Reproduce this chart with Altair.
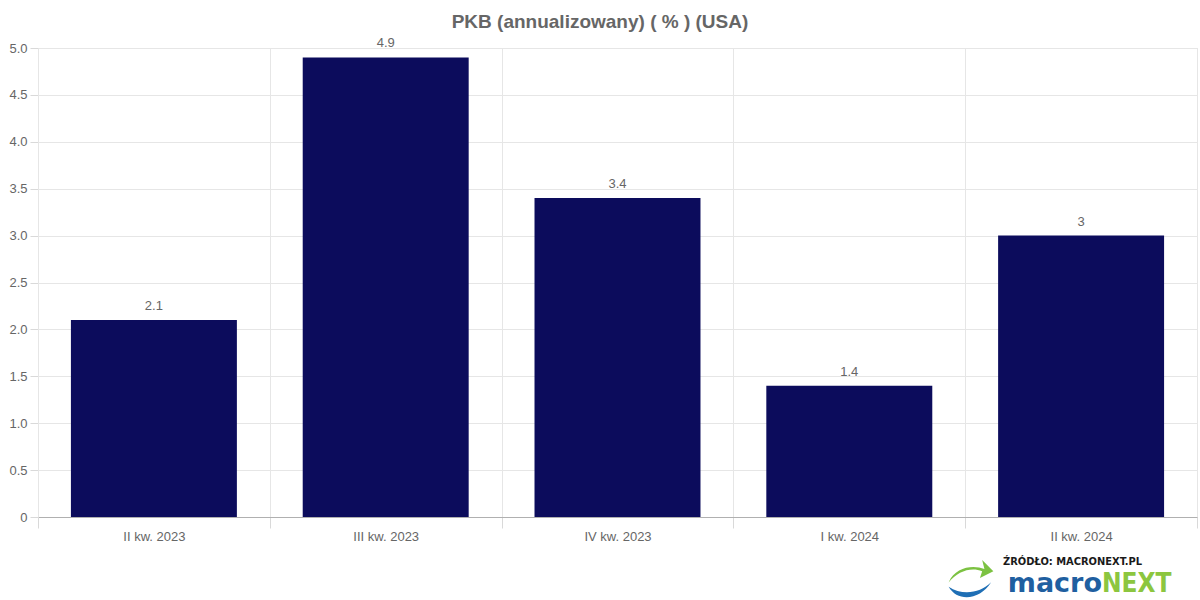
import altair as alt
import pandas as pd

categories = ["II kw. 2023", "III kw. 2023", "IV kw. 2023", "I kw. 2024", "II kw. 2024"]
values = [2.1, 4.9, 3.4, 1.4, 3]

df = pd.DataFrame({"kw": categories, "v": values})

W, H = 1159, 469
GRID = "#e6e6e6"
TXT = "#666666"

x = alt.X("kw:N", sort=categories, title=None,
          scale=alt.Scale(paddingInner=0, paddingOuter=0),
          axis=alt.Axis(tickBand="extent", labelAngle=0, labelColor=TXT, labelFontSize=13,
                        labelFont="Liberation Sans", tickSize=11, tickColor="#d9d9d9",
                        gridColor=GRID, grid=True, domainColor="#b0b0b0", labelPadding=2))
y = alt.Y("v:Q", title=None,
          scale=alt.Scale(domain=[0, 5], nice=False),
          axis=alt.Axis(values=[0, 0.5, 1, 1.5, 2, 2.5, 3, 3.5, 4, 4.5, 5],
                        labelExpr="datum.value == 0 ? '0' : format(datum.value, '.1f')",
                        labelColor=TXT, labelFontSize=13, labelFont="Liberation Sans",
                        tickSize=8, tickColor="#d9d9d9", gridColor=GRID,
                        domainColor=GRID, labelPadding=3))

base = alt.Chart(df).encode(x=x, y=y)
bars = base.mark_bar(color="#0c0c5c", width=alt.RelativeBandSize(0.716))
labels = base.mark_text(dy=-10, baseline="alphabetic", color=TXT, fontSize=13,
                        font="Liberation Sans").encode(text="v:Q")

title_txt = ["PKB (annualizowany) ( % ) (USA)"]
tdf = pd.DataFrame({"t": title_txt})
title = alt.Chart(tdf).mark_text(fontSize=19, fontWeight="bold", color=TXT,
                                 font="Liberation Sans", baseline="middle").encode(
    x=alt.value(600 - 38), y=alt.value(22 - 48), text="t:N")

src_txt = ["ŹRÓDŁO: MACRONEXT.PL"]
src = alt.Chart(pd.DataFrame({"t": src_txt})).mark_text(
    fontSize=11, fontWeight="bold", color="#1a1a1a", font="DejaVu Sans Condensed",
    align="left", baseline="alphabetic").encode(
    x=alt.value(1003 - 38), y=alt.value(565 - 48), text="t:N")

macro_txt = ["macro"]
macro = alt.Chart(pd.DataFrame({"t": macro_txt})).mark_text(
    fontSize=27, fontWeight="bold", color="#1f5fa0", font="DejaVu Sans",
    align="right", baseline="alphabetic").encode(
    x=alt.value(1102 - 38), y=alt.value(592 - 48), text="t:N")

next_txt = ["NEXT"]
nxt = alt.Chart(pd.DataFrame({"t": next_txt})).mark_text(
    fontSize=26, fontWeight="bold", color="#8cc63f", font="DejaVu Sans Condensed",
    align="left", baseline="alphabetic").encode(
    x=alt.value(1102 - 38), y=alt.value(592 - 48), text="t:N")

swoosh_blue = "M -1 0.3 C -0.6 1.0 0.4 0.9 0.9 0.1 C 0.4 0.6 -0.4 0.7 -1 0.3 Z"
swoosh_green = "M -1 0.2 C -0.7 -0.5 0.1 -0.6 0.6 -0.4 L 0.5 -0.8 L 1 -0.3 L 0.4 0 L 0.5 -0.3 C 0 -0.5 -0.6 -0.3 -1 0.2 Z"
sb = alt.Chart(pd.DataFrame({"t": ["a"]})).mark_point(
    shape=swoosh_blue, filled=True, color="#1f6fb5", size=2000, opacity=1).encode(
    x=alt.value(971 - 38), y=alt.value(580 - 48))
sg = alt.Chart(pd.DataFrame({"t": ["a"]})).mark_point(
    shape=swoosh_green, filled=True, color="#7cc242", size=2000, opacity=1).encode(
    x=alt.value(971 - 38), y=alt.value(578 - 48))

chart = alt.layer(bars, labels, title, src, macro, nxt, sb, sg).properties(
    width=W, height=H,
    autosize=alt.AutoSizeParams(type="none"),
    padding={"left": 38, "top": 48, "right": 3, "bottom": 83},
).configure_view(stroke=None).configure(background="white")

chart.save("out.html", embed_options={"renderer": "svg", "actions": False})
